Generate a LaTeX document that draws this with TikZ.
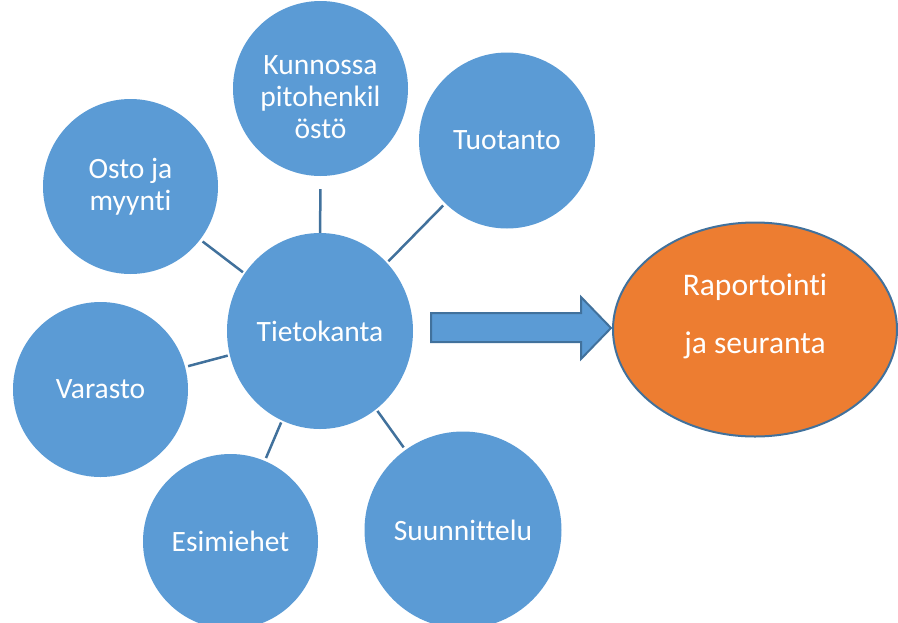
\documentclass[tikz,border=0pt]{standalone}
\usepackage{fontspec}
\setmainfont{Carlito}[Ligatures=NoCommon]
\usetikzlibrary{shapes.geometric}
\definecolor{blobfill}{HTML}{5B9BD5}
\definecolor{blobline}{HTML}{41719C}
\definecolor{orangefill}{HTML}{ED7D31}
\begin{document}
\begin{tikzpicture}[x=1pt,y=-1pt,
  blob/.style={circle, fill=blobfill, inner sep=0pt, minimum size=175pt,
    text=white, font=\fontsize{29.5}{32.5}\selectfont, align=center},
  blobtext/.style={text=white, font=\fontsize{29.5}{32}\selectfont, align=center, inner sep=0pt},
  link/.style={draw=blobline, line width=2.5pt, shorten <=3pt, shorten >=2pt},
  bigarrow/.style={fill=blobfill, draw=blobline, line width=2pt, line join=miter}]
\useasboundingbox (0,0) rectangle (898,622);

% central database and the surrounding functions
\node[blob, ellipse, minimum width=186pt, minimum height=196pt] (db) at (320,331) {Tietokanta};
\node[blob] (osto) at (130.5,186.5) {Osto ja\\myynti};
\node[blob] (kun) at (320.5,88.5) {};
\node[blobtext] (kuntxt) at (320.5,97.5) {Kunnossa\\pitohenkil\\östö};
\node[blob, minimum size=176pt] (tuo) at (507,140.5) {Tuotanto};
\node[blob] (var) at (100.5,389.5) {Varasto};
\node[blob] (esi) at (230.5,541.5) {Esimiehet};
\node[blob, minimum size=197pt] (suu) at (463,530) {Suunnittelu};

% reporting
\node[ellipse, fill=orangefill, draw=blobline, line width=2pt, inner sep=0pt,
      minimum width=284pt, minimum height=214pt] (rap) at (755,329.5) {};
\node[blobtext, font=\fontsize{31.5}{35}\selectfont] (raptxt) at ([yshift=13pt]rap.center)
  {Raportointi\\[23pt]ja seuranta};

% links to the database
\draw[link] (osto) -- (db);
\draw[link, shorten <=13pt, shorten >=0pt] (kun) -- (db);
\draw[link] (tuo) -- (db);
\draw[link] (var) -- (db);
\draw[link] (esi) -- (db);
\draw[link] (suu) -- (db);

% block arrow towards reporting
\draw[bigarrow] (431,313) -- (581,313) -- (581,297) -- (611,328) -- (581,359)
  -- (581,342) -- (431,342) -- cycle;
\end{tikzpicture}
\end{document}
